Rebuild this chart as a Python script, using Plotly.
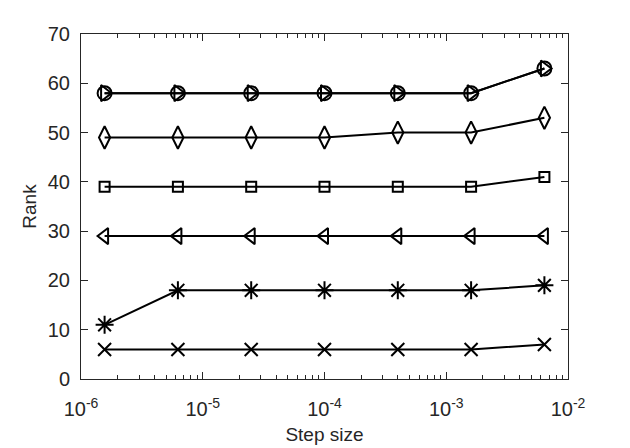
import plotly.graph_objects as go

step = [1.5625e-6, 6.25e-6, 2.5e-5, 1e-4, 4e-4, 1.6e-3, 6.4e-3]
s_x = [6, 6, 6, 6, 6, 6, 7]
s_ast = [11, 18, 18, 18, 18, 18, 19]
s_tri_l = [29, 29, 29, 29, 29, 29, 29]
s_sq = [39, 39, 39, 39, 39, 39, 41]
s_dia = [49, 49, 49, 49, 50, 50, 53]
s_circ = [58, 58, 58, 58, 58, 58, 63]
s_tri_r = [58, 58, 58, 58, 58, 58, 63]

xticks = [1e-6, 1e-5, 1e-4, 1e-3, 1e-2]
xticktext = ["10<sup>-6</sup>", "10<sup>-5</sup>", "10<sup>-4</sup>", "10<sup>-3</sup>", "10<sup>-2</sup>"]
yticks = [0, 10, 20, 30, 40, 50, 60, 70]

series = [
    (s_x, "x-thin-open", 13),
    (s_ast, "asterisk-open", 15),
    (s_tri_l, "triangle-left-open", 14),
    (s_sq, "square-open", 10),
    (s_dia, "diamond-tall-open", 16),
    (s_circ, "circle-open", 14),
    (s_tri_r, "triangle-right-open", 14),
]

fig = go.Figure()
for ys, sym, sz in series:
    fig.add_trace(go.Scatter(
        x=step, y=ys, mode="lines+markers",
        line=dict(color="black", width=2),
        marker=dict(symbol=sym, size=sz, color="black", line=dict(color="black", width=2)),
        showlegend=False,
    ))

minor_vals = [m * 10 ** e for e in range(-6, -2) for m in range(2, 10)]

fig.update_layout(
    width=630, height=448,
    margin=dict(l=81, r=62, t=34, b=69),
    paper_bgcolor="white", plot_bgcolor="white",
    font=dict(family="Liberation Sans, Arial, sans-serif", size=20, color="#262626"),
    xaxis=dict(
        type="log", range=[-6, -2], automargin=False,
        tickvals=xticks, ticktext=xticktext,
        ticks="inside", ticklen=7, tickcolor="#262626", tickwidth=1,
        showline=True, linecolor="#262626", linewidth=1, mirror="ticks",
        showgrid=False, zeroline=False,
        ticklabelstandoff=12,
        minor=dict(tickvals=minor_vals, ticks="inside", ticklen=4, tickcolor="#262626", showgrid=False),
        title=dict(text="Step size", font=dict(size=19), standoff=8),
        tickfont=dict(size=20),
    ),
    yaxis=dict(
        range=[0, 70], tickvals=yticks, automargin=False,
        ticks="inside", ticklen=7, tickcolor="#262626", tickwidth=1,
        showline=True, linecolor="#262626", linewidth=1, mirror="ticks",
        showgrid=False, zeroline=False,
        ticklabelstandoff=6,
        title=dict(text="Rank", font=dict(size=19), standoff=6),
        tickfont=dict(size=20),
    ),
)

fig.write_html("out.html")
